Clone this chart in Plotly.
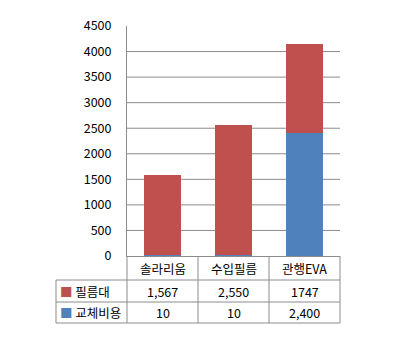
import plotly.graph_objects as go

categories = ["솔라리움", "수입필름", "관행EVA"]
film_name = "필름대"
film_values = [1567, 2550, 1747]
film_labels = ["1,567", "2,550", "1747"]
repl_name = "교체비용"
repl_values = [10, 10, 2400]
repl_labels = ["10", "10", "2,400"]
y_ticks = [0, 500, 1000, 1500, 2000, 2500, 3000, 3500, 4000, 4500]

RED = "#C0504D"
BLUE = "#4F81BD"
GRID = "#8C8C8C"
FONT = "Noto Sans CJK KR"

fig = go.Figure()
fig.add_bar(x=categories, y=repl_values, name=repl_name, marker=dict(color=BLUE, line=dict(width=0)))
fig.add_bar(x=categories, y=film_values, name=film_name, marker=dict(color=RED, line=dict(width=0)))

fig.update_layout(
    width=399, height=344,
    margin=dict(l=127, r=59, t=26, b=88),
    barmode="stack", bargap=0.48,
    showlegend=False,
    plot_bgcolor="white", paper_bgcolor="white",
    font=dict(family=FONT, size=12, color="#000000"),
)
fig.update_xaxes(range=[-0.5, 2.5], showticklabels=False, showgrid=False,
                 showline=True, linecolor=GRID, linewidth=1, ticks="")
fig.update_yaxes(range=[0, 4500], tickvals=y_ticks, showgrid=False,
                 showline=True, linecolor=GRID, linewidth=1,
                 zeroline=False, ticks="", tickfont=dict(size=12.5, family=FONT),
                 ticklabelstandoff=12)

line = dict(color=GRID, width=1)
shapes = []
# horizontal gridlines (no line at the top value)
for t in y_ticks[1:-1]:
    shapes.append(dict(type="line", xref="paper", yref="y", x0=0, x1=1, y0=t, y1=t,
                       line=line, layer="below"))

# table geometry (paper y)
H = 230.0
y_hdr_bot = -24 / H
y_r1_bot = -46 / H
y_r2_bot = -67 / H
x_left = -1 / 3.0  # label column is one category wide
for xb in [0, 1 / 3.0, 2 / 3.0, 1]:
    shapes.append(dict(type="line", xref="paper", yref="paper", x0=xb, x1=xb, y0=0, y1=y_r2_bot, line=line))
shapes.append(dict(type="line", xref="paper", yref="paper", x0=x_left, x1=x_left, y0=y_hdr_bot, y1=y_r2_bot, line=line))
for yb in [y_hdr_bot, y_r1_bot, y_r2_bot]:
    shapes.append(dict(type="line", xref="paper", yref="paper", x0=x_left, x1=1, y0=yb, y1=yb, line=line))
fig.update_layout(shapes=shapes)

ann = []
def cell(x, y, text, anchor="center", xref="x"):
    ann.append(dict(x=x, y=y, xref=xref, yref="paper", text=text, showarrow=False,
                    xanchor=anchor, yanchor="middle", font=dict(size=12.5, family=FONT, color="#000000")))

for i, c in enumerate(categories):
    cell(i, -12 / H, c)
    cell(i, -35 / H, film_labels[i])
    cell(i, -56.5 / H, repl_labels[i])

cell(x_left + 0.008, -35 / H, f"<span style='color:{RED}'>■</span> {film_name}", "left", "paper")
cell(x_left + 0.008, -56.5 / H, f"<span style='color:{BLUE}'>■</span> {repl_name}", "left", "paper")
fig.update_layout(annotations=ann)

fig.write_html("out.html")
